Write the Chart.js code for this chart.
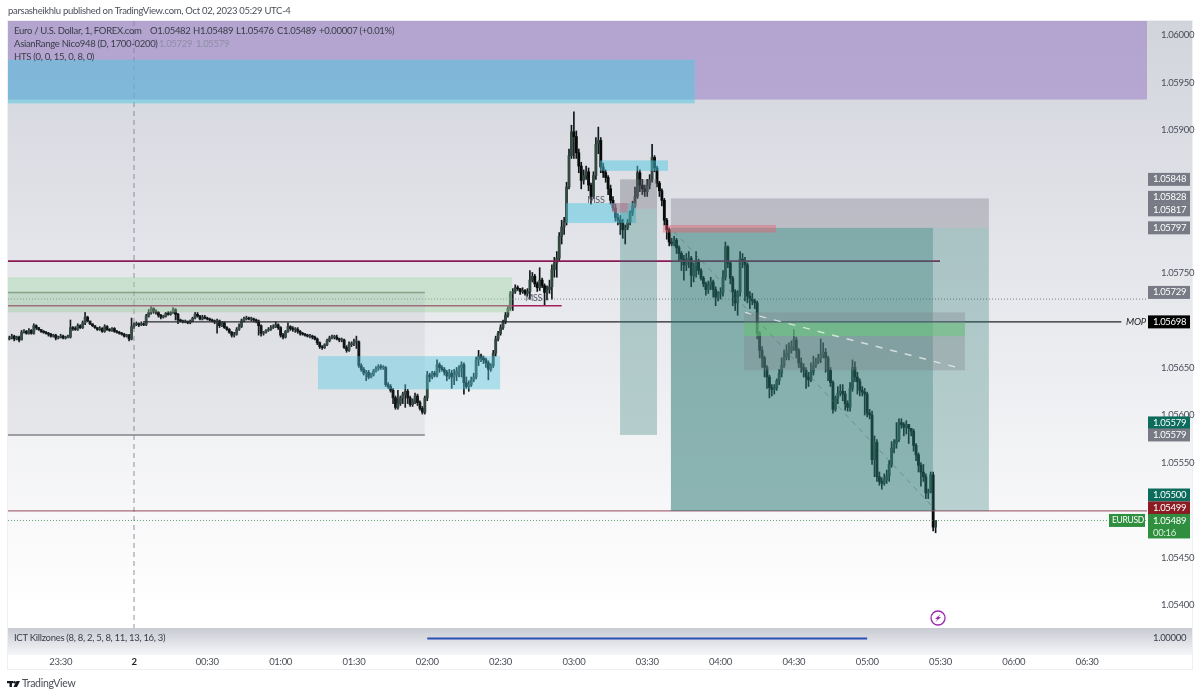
<!DOCTYPE html>
<html>
<head>
<meta charset="utf-8">
<title>EURUSD 1m</title>
<script src="https://cdn.jsdelivr.net/npm/chart.js@4/dist/chart.umd.js"></script>
<style>
    html, body { margin: 0; padding: 0; background: #fff; }
    canvas { display: block; }
</style>
</head>
<body>
<canvas id="tvChart" width="1200" height="697"></canvas>
<script>
// Prices are stored as points above PRICE_BASE (729 means 1.05729)
const PRICE_BASE = 1.05;

// One candle per minute, first one is 51 minutes before midnight
const FIRST_MINUTE = -51;

const opens = [
    680,681,683,680,682,679,687,688,686,689,686,694,692,690,688,687,686,685,683,684,
    681,682,683,681,682,682,692,691,690,694,692,697,703,699,696,694,692,690,691,688,
    693,690,689,691,688,687,686,685,683,684,680,693,695,696,695,696,695,704,708,712,
    709,708,705,703,704,707,706,708,711,706,700,699,698,698,697,699,702,706,704,701,
    703,702,701,700,699,698,699,694,697,692,690,687,684,685,690,693,699,701,702,701,
    701,700,699,694,686,687,689,690,692,693,695,692,684,682,688,693,691,690,690,688,
    686,685,684,683,683,682,680,676,672,671,674,678,681,682,682,680,679,679,671,668,
    674,675,677,677,652,648,644,645,640,642,646,649,651,650,650,632,630,626,618,608,
    612,618,622,625,618,611,615,620,613,607,603,618,642,640,644,642,653,650,648,645,
    641,644,640,642,646,650,653,634,630,632,637,640,658,662,660,658,655,648,652,665,
    680,686,692,698,705,712,728,730,734,733,730,731,728,730,742,746,738,734,742,736,
    729,732,735,753,760,765,788,798,803,840,873,898,893,876,862,847,852,856,842,830,
    852,885,889,861,855,850,838,826,818,808,805,802,795,797,803,813,820,830,855,842,
    838,835,842,848,871,860,844,836,826,805,795,782,780,784,776,770,764,758,762,765,
    747,757,761,752,744,738,732,736,740,732,724,728,729,745,777,760,744,730,718,729,
    764,762,758,725,722,720,718,686,668,660,650,640,629,627,629,636,644,652,661,665,
    668,672,679,668,655,650,647,640,637,645,652,656,660,664,666,660,647,634,606,618,
    623,625,622,612,608,628,650,640,635,626,624,622,602,600,553,571,535,530,528,532,
    536,548,565,570,574,592,590,587,590,586,583,568,558,547,540,535,518,519,537,482
];
const highs = [
    683,685,684,683,683,689,690,689,691,690,696,695,692,690,689,688,687,686,685,685,
    683,685,684,683,684,700,693,693,696,695,699,708,704,698,696,694,692,693,692,695,
    694,691,692,692,689,688,687,686,685,685,702,697,698,697,698,697,706,711,714,713,
    711,709,706,705,708,709,709,713,712,707,701,700,700,699,700,703,708,708,705,705,
    705,703,702,701,700,701,700,698,698,693,691,688,687,692,696,701,703,704,703,703,
    702,701,700,695,688,690,692,694,695,698,696,693,686,689,697,694,693,692,692,689,
    687,686,685,685,684,683,681,677,673,675,680,683,684,684,684,681,681,680,673,677,
    677,680,683,678,654,650,647,647,644,648,651,653,653,652,651,634,632,628,620,626,
    620,624,632,627,620,617,623,622,615,609,620,646,644,646,646,658,655,652,650,647,
    648,647,648,650,652,656,655,640,636,640,644,661,668,664,662,660,657,654,668,683,
    688,695,700,708,714,730,733,737,736,733,734,732,733,752,750,748,740,755,744,738,
    736,742,758,766,772,792,805,808,845,880,905,919,899,880,866,858,862,860,844,856,
    892,903,892,865,858,852,842,830,822,812,810,806,800,806,815,825,840,862,858,848,
    842,848,853,885,873,862,846,838,828,807,797,786,788,786,778,772,768,770,772,767,
    760,772,764,754,746,740,741,745,742,735,730,734,752,782,778,762,746,732,731,772,
    770,766,760,730,728,722,720,688,672,662,652,642,632,632,638,648,660,668,674,676,
    678,690,682,670,660,654,650,645,655,662,660,664,680,676,670,662,650,636,620,630,
    632,632,625,615,634,658,656,645,638,630,628,624,606,604,578,574,540,534,538,542,
    552,572,574,592,596,596,592,594,590,586,585,570,560,550,548,538,522,540,540,489
];
const lows = [
    679,680,678,679,677,679,686,685,685,685,685,690,689,687,686,685,683,682,682,679,
    680,681,680,680,681,681,689,689,689,691,691,695,698,695,693,691,689,689,687,687,
    689,688,688,687,686,685,684,682,682,678,679,691,694,693,694,694,694,703,706,707,
    706,703,701,702,703,705,705,707,700,696,698,697,697,696,696,698,701,703,700,700,
    701,700,699,698,696,686,692,693,691,689,686,682,682,684,689,692,698,700,700,699,
    698,697,684,683,684,686,688,689,691,692,690,682,680,681,687,689,688,687,686,684,
    684,683,682,681,680,679,674,670,669,670,673,677,680,680,679,677,677,670,666,667,
    672,673,670,650,646,642,636,638,639,641,645,647,648,648,630,628,624,612,606,606,
    610,612,608,612,609,609,612,610,605,601,601,615,635,638,640,640,645,646,642,636,
    638,628,632,636,640,640,622,628,625,630,635,638,652,656,654,650,637,646,650,662,
    678,684,690,696,703,710,710,728,731,727,728,726,725,722,740,735,730,731,734,716,
    721,728,722,745,745,762,780,790,800,838,870,870,870,855,838,843,848,836,822,828,
    848,875,855,850,845,832,822,815,804,800,790,786,780,795,800,810,818,828,835,832,
    830,830,838,845,856,840,830,820,800,785,778,778,778,770,762,752,742,752,755,735,
    740,745,748,742,735,726,728,732,724,715,720,722,725,742,755,738,715,710,705,725,
    755,720,718,712,716,712,680,660,650,640,628,618,620,622,626,632,640,650,658,658,
    665,668,660,650,645,640,628,630,635,642,650,654,655,660,645,636,630,602,604,612,
    620,615,605,604,604,625,635,622,620,620,600,598,596,548,535,530,526,522,526,528,
    530,545,560,565,572,586,578,580,570,578,562,552,540,525,530,512,512,518,478,476
];
const closes = [
    681,683,680,682,679,687,688,686,689,686,694,692,690,688,687,686,685,683,684,681,
    682,683,681,682,682,692,691,690,694,692,697,703,699,696,694,692,690,691,688,693,
    690,689,691,688,687,686,685,683,684,680,693,695,696,695,696,695,704,708,712,709,
    708,705,703,704,707,706,708,711,706,700,699,698,698,697,699,702,706,704,701,703,
    702,701,700,699,698,699,694,697,692,690,687,684,685,690,693,699,701,702,701,701,
    700,699,694,686,687,689,690,692,693,695,692,684,682,688,693,691,690,690,688,686,
    685,684,683,683,682,680,676,672,671,674,678,681,682,682,680,679,679,671,668,674,
    675,677,677,652,648,644,645,640,642,646,649,651,650,650,632,630,626,618,608,612,
    618,622,625,618,611,615,620,613,607,603,618,642,640,644,642,653,650,648,645,641,
    644,640,642,646,650,653,634,630,632,637,640,658,662,660,658,655,648,652,665,680,
    686,692,698,705,712,728,730,734,733,730,731,728,730,742,746,738,734,742,736,729,
    732,735,753,760,765,788,798,803,840,873,898,893,876,862,847,852,856,842,830,852,
    885,889,861,855,850,838,826,818,808,805,802,795,797,803,813,820,830,855,842,838,
    835,842,848,871,860,844,836,826,805,795,782,780,784,776,770,764,758,762,765,747,
    757,761,752,744,738,732,736,740,732,724,728,729,745,777,760,744,730,718,729,764,
    762,758,725,722,720,718,686,668,660,650,640,629,627,629,636,644,652,661,665,668,
    672,679,668,655,650,647,640,637,645,652,656,660,664,666,660,647,634,606,618,623,
    625,622,612,608,628,650,640,635,626,624,622,602,600,553,571,535,530,528,532,536,
    548,565,570,574,592,590,587,590,586,583,568,558,547,540,535,518,519,537,482,489
];

// Axis ticks, the ones hidden behind price tags in the reference are left out
const tickMinutes = [-30, 0, 30, 60, 90, 120, 150, 180, 210, 240, 270, 300, 330, 360, 390];
const tickLabels = ['23:30', '2', '00:30', '01:00', '01:30', '02:00', '02:30', '03:00', '03:30', '04:00', '04:30', '05:00', '05:30', '06:00', '06:30'];
const priceTicks = [1.054, 1.0545, 1.0555, 1.056, 1.0565, 1.0575, 1.059, 1.0595, 1.06];

// Visible range
const minMinute = -51.55, maxMinute = 414.5;
const minPoint = 375.8, maxPoint = 1014.7;

// Drawn zones: start and end in minutes, low and high in points
const zoneStarts = [-51.55, -51.55, -51.55, -51.55, 75.3, 190.7, 176.8, 198.9, 198.9, 195.6, 219.7, 219.7, 219.7, 216.4, 249.6, 249.6];
const zoneEnds   = [414.5, 229.5, 154.7, 119, 149.8, 218.5, 205.4, 214, 214, 202, 349.8, 349.8, 326.9, 262.7, 340, 340];
const zoneLows   = [932, 928, 708, 579, 627, 857, 802, 817, 579, 813, 797, 499, 499, 792, 647, 683];
const zoneHighs  = [1014.7, 974, 745, 729, 662, 868, 823, 848, 817, 823, 828, 797, 797, 800, 708, 697];
const zoneColors = [
    'rgba(150,120,195,0.52)', 'rgba(80,200,225,0.52)', 'rgba(160,215,165,0.42)', 'rgba(120,123,134,0.09)',
    'rgba(80,200,225,0.42)', 'rgba(80,200,225,0.5)', 'rgba(80,200,225,0.5)', 'rgba(110,110,120,0.38)',
    'rgba(40,120,112,0.3)', 'rgba(235,90,110,0.38)', 'rgba(110,110,125,0.32)', 'rgba(40,120,112,0.3)',
    'rgba(40,120,112,0.31)', 'rgba(235,90,110,0.42)', 'rgba(125,125,135,0.3)', 'rgba(100,205,120,0.5)'
];

// Horizontal levels
const levelPoints = [762, 715, 698, 722, 489, 499, 729, 579];
const levelStarts = [-51.55, -51.55, 3.7, -51.55, -51.55, -51.55, -51.55, -51.55];
const levelEnds   = [329.8, 175, 404, 414.5, 414.5, 414.5, 119, 119];
const levelColors = ['#8a1c55', '#a31f5d', '#222428', 'rgba(90,95,105,0.75)', 'rgba(50,125,70,0.75)', 'rgba(150,70,90,0.8)', 'rgba(95,110,100,0.85)', 'rgba(110,112,122,0.85)'];
const levelWidths = [1.6, 1.6, 1.2, 1, 1, 1.2, 1.5, 1.5];
const levelDashes = [[], [], [], [1, 2], [1, 2], [], [], []];

// Right hand price tags
const tagTexts  = ['1.05848', '1.05828', '1.05817', '1.05797', '1.05729', '1.05698', '1.05579', '1.05579', '1.05500', '1.05499', '1.05489'];
const tagPoints = [848, 828, 817, 797, 729, 698, 579, 579, 500, 499, 489];
const tagShifts = [0, -1, 1, 0, 0, 0, -12, 0, -15, -3, 0];
const tagColors = ['#787b86', '#787b86', '#787b86', '#787b86', '#787b86', '#000000', '#0b6b5c', '#787b86', '#0b6b5c', '#8c1c24', '#2f8f3f'];

const FONT = 'Lato, sans-serif';
const TEXT_SIZE = 9.5;

const bodyData = opens.map((o, i) => ({ x: FIRST_MINUTE + i, y: [PRICE_BASE + o / 1e5, PRICE_BASE + closes[i] / 1e5] }));
const wickData = lows.map((l, i) => ({ x: FIRST_MINUTE + i, y: [PRICE_BASE + l / 1e5, PRICE_BASE + highs[i] / 1e5] }));
const bodyColors = opens.map((o, i) => closes[i] >= o ? '#33483f' : '#060b0a');

function toPrice(points) {
    return PRICE_BASE + points / 1e5;
}

const overlayPlugin = {
    id: 'overlay',
    beforeDraw(chart) {
        const ctx = chart.ctx;
        const area = chart.chartArea;
        // the reference text is condensed, no narrow font is installed
        ctx.letterSpacing = '-0.3px';
        const g = ctx.createLinearGradient(0, area.top, 0, area.bottom - 18);
        g.addColorStop(0, '#d2d4dc');
        g.addColorStop(1, '#ffffff');
        ctx.fillStyle = g;
        ctx.fillRect(area.left, area.top, 1192 - area.left, area.bottom - area.top);

        // killzones pane and time axis
        const k = ctx.createLinearGradient(0, area.bottom, 0, area.bottom + 27);
        k.addColorStop(0, '#c9cbd3');
        k.addColorStop(1, '#f5f6f8');
        ctx.fillStyle = k;
        ctx.fillRect(area.left, area.bottom, 1192 - area.left, 27);
        ctx.strokeStyle = '#eeeff2';
        ctx.lineWidth = 1;
        ctx.strokeRect(area.left - 0.5, area.top - 0.5, 1192 - area.left + 1, 670 - area.top);
    },
    afterDatasetsDraw(chart) {
        const ctx = chart.ctx;
        const xS = chart.scales.x;
        const yS = chart.scales.y;
        const area = chart.chartArea;

        ctx.save();
        ctx.beginPath();
        ctx.rect(area.left, area.top, area.right - area.left, area.bottom - area.top);
        ctx.clip();

        // session break
        ctx.strokeStyle = 'rgba(120,123,134,0.8)';
        ctx.lineWidth = 1;
        ctx.setLineDash([5, 4]);
        ctx.beginPath();
        ctx.moveTo(xS.getPixelForValue(0), area.top);
        ctx.lineTo(xS.getPixelForValue(0), area.bottom);
        ctx.stroke();

        levelPoints.forEach((p, i) => {
            const y = yS.getPixelForValue(toPrice(p));
            ctx.strokeStyle = levelColors[i];
            ctx.lineWidth = levelWidths[i];
            ctx.setLineDash(levelDashes[i]);
            ctx.beginPath();
            ctx.moveTo(xS.getPixelForValue(levelStarts[i]), y);
            ctx.lineTo(xS.getPixelForValue(levelEnds[i]), y);
            ctx.stroke();
        });
        ctx.setLineDash([]);

        zoneStarts.forEach((s, i) => {
            const x0 = xS.getPixelForValue(s);
            const x1 = xS.getPixelForValue(zoneEnds[i]);
            const y0 = yS.getPixelForValue(toPrice(zoneHighs[i]));
            const y1 = yS.getPixelForValue(toPrice(zoneLows[i]));
            ctx.fillStyle = zoneColors[i];
            ctx.fillRect(x0, y0, x1 - x0, y1 - y0);
        });

        // white dashed retracement and the faint down trend
        ctx.strokeStyle = 'rgba(255,255,255,0.65)';
        ctx.lineWidth = 1.4;
        ctx.setLineDash([7, 8]);
        ctx.beginPath();
        ctx.moveTo(xS.getPixelForValue(250), yS.getPixelForValue(toPrice(708)));
        ctx.lineTo(xS.getPixelForValue(337), yS.getPixelForValue(toPrice(650)));
        ctx.stroke();
        ctx.strokeStyle = 'rgba(80,105,100,0.5)';
        ctx.lineWidth = 1;
        ctx.setLineDash([5, 5]);
        ctx.beginPath();
        ctx.moveTo(xS.getPixelForValue(221), yS.getPixelForValue(toPrice(793)));
        ctx.lineTo(xS.getPixelForValue(328), yS.getPixelForValue(toPrice(500)));
        ctx.stroke();
        ctx.setLineDash([]);

        // MSS labels
        ctx.fillStyle = '#555a66';
        ctx.font = '9px ' + FONT;
        ctx.textAlign = 'center';
        ctx.textBaseline = 'middle';
        ctx.fillText('MSS', xS.getPixelForValue(189), yS.getPixelForValue(toPrice(826)));
        ctx.fillText('MSS', xS.getPixelForValue(163.5), yS.getPixelForValue(toPrice(723)));

        // lightning marker below the last bar
        const bx = xS.getPixelForValue(329);
        const by = 618;
        ctx.strokeStyle = '#9c27b0';
        ctx.lineWidth = 1.3;
        ctx.beginPath();
        ctx.arc(bx, by, 7, 0, Math.PI * 2);
        ctx.stroke();
        ctx.fillStyle = '#9c27b0';
        ctx.beginPath();
        ctx.moveTo(bx + 2.5, by - 4);
        ctx.lineTo(bx - 3, by + 1);
        ctx.lineTo(bx - 0.5, by + 1);
        ctx.lineTo(bx - 2.5, by + 4);
        ctx.lineTo(bx + 3, by - 1);
        ctx.lineTo(bx + 0.5, by - 1);
        ctx.closePath();
        ctx.fill();
        ctx.restore();

        // killzones line
        ctx.strokeStyle = '#2a50b8';
        ctx.lineWidth = 2;
        ctx.beginPath();
        ctx.moveTo(xS.getPixelForValue(120), 638.5);
        ctx.lineTo(xS.getPixelForValue(300), 638.5);
        ctx.stroke();

        drawTexts(ctx);
        drawTags(ctx, yS);
    }
};

function drawTexts(ctx) {
    ctx.textAlign = 'left';
    ctx.textBaseline = 'middle';
    ctx.font = TEXT_SIZE + 'px ' + FONT;
    ctx.fillStyle = '#4a4e59';
    ctx.fillText('parsasheikhlu published on TradingView.com, Oct 02, 2023 05:29 UTC-4', 8, 11);
    ctx.fillStyle = '#3a3d47';
    ctx.fillText('Euro / U.S. Dollar, 1, FOREX.com', 14, 31);
    ctx.fillText('O1.05482', 150, 31);
    ctx.fillText('H1.05489', 193, 31);
    ctx.fillText('L1.05476', 236, 31);
    ctx.fillText('C1.05489', 277, 31);
    ctx.fillText('+0.00007 (+0.01%)', 319, 31);
    ctx.fillText('AsianRange Nico948 (D, 1700-0200)', 14, 44);
    ctx.fillText('HTS (0, 0, 15, 0, 8, 0)', 14, 57);
    ctx.fillStyle = '#8f8da6';
    ctx.fillText('1.05729', 159, 44);
    ctx.fillText('1.05579', 196, 44);

    ctx.fillStyle = '#3a3d47';
    ctx.fillText('ICT Killzones (8, 8, 2, 5, 8, 11, 13, 16, 3)', 14, 638);
    ctx.fillText('1.00000', 1153, 638);
    ctx.fillStyle = '#222';
    ctx.font = 'italic ' + TEXT_SIZE + 'px ' + FONT;
    ctx.fillText('MOP', 1126, 322);

    // footer logo
    ctx.fillStyle = '#131722';
    ctx.fillRect(7, 681, 6, 2.2);
    ctx.fillRect(9.5, 681, 2.4, 6);
    ctx.beginPath();
    ctx.arc(14.5, 682.2, 1.3, 0, Math.PI * 2);
    ctx.fill();
    ctx.beginPath();
    ctx.moveTo(16.5, 681);
    ctx.lineTo(20, 681);
    ctx.lineTo(17, 687);
    ctx.lineTo(13.5, 687);
    ctx.closePath();
    ctx.fill();
    ctx.fillStyle = '#4a4e59';
    ctx.font = '10.5px ' + FONT;
    ctx.fillText('TradingView', 22, 684);
}

function drawTags(ctx, yS) {
    ctx.textBaseline = 'middle';
    ctx.textAlign = 'left';
    tagTexts.forEach((t, i) => {
        const y = yS.getPixelForValue(toPrice(tagPoints[i])) + tagShifts[i];
        ctx.fillStyle = tagColors[i];
        ctx.fillRect(1148, y - 6.5, 42, 13);
        ctx.fillStyle = '#ffffff';
        ctx.font = TEXT_SIZE + 'px ' + FONT;
        ctx.fillText(t, 1153, y);
    });

    // countdown under the last price and the symbol tag
    const y = yS.getPixelForValue(toPrice(489));
    ctx.fillStyle = '#2f8f3f';
    ctx.fillRect(1148, y + 6, 42, 12);
    ctx.fillRect(1109, y - 6.5, 36, 13);
    ctx.fillStyle = '#d8f0da';
    ctx.fillText('00:16', 1153, y + 12);
    ctx.fillStyle = '#ffffff';
    ctx.font = '8.5px ' + FONT;
    ctx.fillText('EURUSD', 1112, y);
}

new Chart(document.getElementById('tvChart').getContext('2d'), {
    type: 'bar',
    data: {
        datasets: [
            {
                label: 'wick',
                data: wickData,
                backgroundColor: '#10171a',
                barThickness: 1,
                grouped: false,
                order: 2
            },
            {
                label: 'body',
                data: bodyData,
                backgroundColor: bodyColors,
                barThickness: 2.2,
                minBarLength: 1,
                grouped: false,
                order: 1
            }
        ]
    },
    options: {
        responsive: false,
        animation: false,
        events: [],
        layout: { padding: { left: 8, top: 21, right: 3, bottom: 29 } },
        plugins: { legend: { display: false }, tooltip: { enabled: false } },
        scales: {
            x: {
                type: 'linear',
                min: minMinute,
                max: maxMinute,
                offset: false,
                grid: { display: false },
                border: { display: false },
                afterFit(scale) { scale.height = 40; },
                afterBuildTicks(scale) { scale.ticks = tickMinutes.map(v => ({ value: v })); },
                ticks: {
                    autoSkip: false,
                    maxRotation: 0,
                    padding: 20,
                    color: ctx => ctx.tick.value === 0 ? '#222' : '#4a4e59',
                    font: ctx => ({ family: FONT, size: TEXT_SIZE, weight: ctx.tick && ctx.tick.value === 0 ? 'bold' : 'normal' }),
                    callback: value => tickLabels[tickMinutes.indexOf(value)]
                }
            },
            y: {
                position: 'right',
                min: toPrice(minPoint),
                max: toPrice(maxPoint),
                grid: { display: false },
                border: { display: false },
                afterFit(scale) { scale.width = 50; },
                afterBuildTicks(scale) { scale.ticks = priceTicks.map(v => ({ value: v })); },
                ticks: {
                    autoSkip: false,
                    padding: 6,
                    color: '#4a4e59',
                    font: { family: FONT, size: TEXT_SIZE },
                    callback: value => value.toFixed(5)
                }
            }
        }
    },
    plugins: [overlayPlugin]
});
</script>
</body>
</html>
